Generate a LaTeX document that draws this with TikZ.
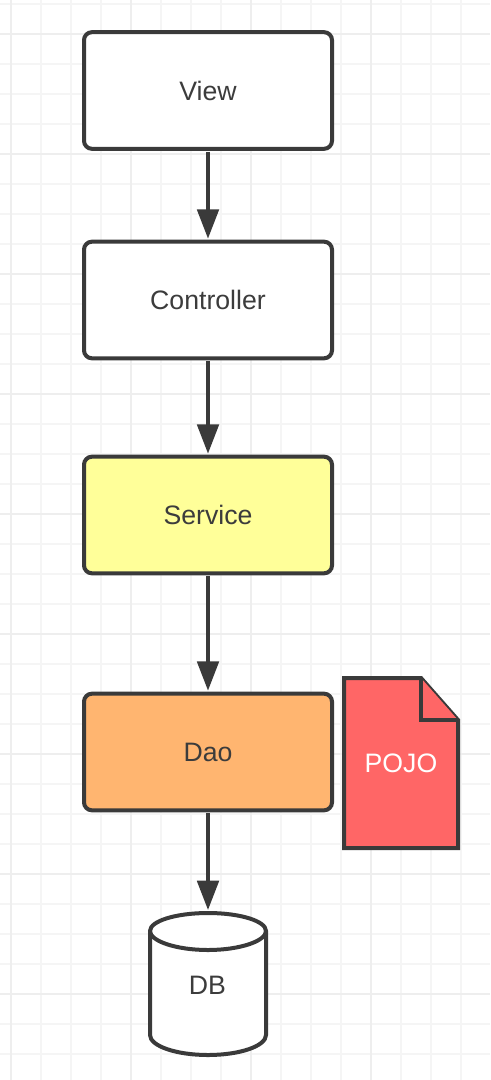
\documentclass[tikz,border=0pt]{standalone}
\usepackage{fontspec}
\setmainfont{Liberation Sans}
\usetikzlibrary{arrows.meta}
\definecolor{ink}{HTML}{3A3A3A}
\definecolor{txt}{HTML}{3C3C3C}
\definecolor{minorgrid}{HTML}{F5F5F5}
\definecolor{majorgrid}{HTML}{EEEEEE}
\definecolor{svc}{HTML}{FFFF99}
\definecolor{dao}{HTML}{FFB570}
\definecolor{poj}{HTML}{FF6666}
\tikzset{
  x=0.75pt,y=-0.75pt,
  minorline/.style={draw=minorgrid,line width=1.1pt},
  majorline/.style={draw=majorgrid,line width=1.4pt},
  labelfont/.style={font=\fontsize{20}{22}\selectfont},
  boxnode/.style={draw=ink,line width=3pt,rounded corners=6pt,minimum width=186pt,minimum height=87.5pt,outer sep=0pt,text=txt,labelfont,inner sep=0pt},
  flow/.style={draw=ink,line width=3pt,-{Triangle[length=22pt,width=16pt,fill=ink]},shorten >=2.2pt,shorten <=2.2pt},
  dbnode/.style={minimum width=87pt,minimum height=106.5pt,outer sep=0pt,text=txt,inner sep=0pt,labelfont},
  dbshape/.style={draw=ink,line width=3pt,fill=white},
  pagefold/.style={draw=ink,line width=3pt,fill=poj,line join=miter},
  pojotext/.style={text=white,labelfont,inner sep=0pt}
}
\begin{document}
\begin{tikzpicture}
\useasboundingbox (0,0) rectangle (490,1080);
\fill[white] (0,0) rectangle (490,1080);
\foreach \gx in {41,71,101,161,191,221,281,311,341,401,431,461}
  \draw[minorline] (\gx,0) -- (\gx,1080);
\foreach \gy in {4,64,94,124,184,214,244,304,334,364,424,454,484,544,574,604,664,694,724,784,814,844,904,934,964,1024,1054}
  \draw[minorline] (0,\gy) -- (490,\gy);
\foreach \gx in {11,131,251,371}
  \draw[majorline] (\gx,0) -- (\gx,1080);
\foreach \gy in {34,154,274,394,514,634,754,874,994}
  \draw[majorline] (0,\gy) -- (490,\gy);

\node[boxnode,fill=white] (view) at (208,90.5) {View};
\node[boxnode,fill=white] (ctrl) at (208,300) {Controller};
\node[boxnode,fill=svc] (serv) at (208,515) {Service};
\node[boxnode,fill=dao] (dao) at (208,752) {Dao};

\draw[dbshape] (150,931) -- (150,1035) .. controls (150,1046) and (176,1055) .. (208,1055)
  .. controls (240,1055) and (266,1046) .. (266,1035) -- (266,931)
  .. controls (266,921) and (240,913) .. (208,913) .. controls (176,913) and (150,921) .. (150,931) -- cycle;
\draw[dbshape] (150,931) .. controls (150,941) and (176,950) .. (208,950)
  .. controls (240,950) and (266,941) .. (266,931);
\node[dbnode] (db) at (208,984) {};
\node[text=txt,labelfont,inner sep=0pt] (dblabel) at (207.5,985) {DB};

\draw[pagefold] (344,678) -- (421,678) -- (458,720) -- (458,848) -- (344,848) -- cycle;
\draw[pagefold] (421,678) -- (421,720) -- (458,720);
\node[pojotext] (pojo) at (401,763) {POJO};

\draw[flow] (view) -- (ctrl);
\draw[flow] (ctrl) -- (serv);
\draw[flow] (serv) -- (dao);
\draw[flow] (dao.south) -- (db.north);
\end{tikzpicture}
\end{document}
